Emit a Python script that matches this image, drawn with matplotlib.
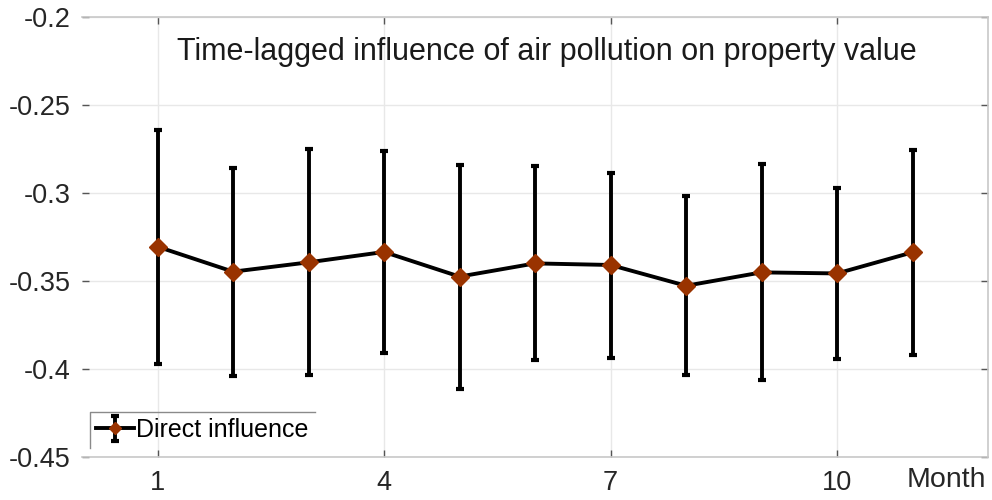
import numpy as np
import matplotlib
matplotlib.use('Agg')
import matplotlib.pyplot as plt
from matplotlib.lines import Line2D

# month lag and estimated direct influence
months = [1, 2, 3, 4, 5, 6, 7, 8, 9, 10, 11]
influence = [-0.3305, -0.3447, -0.3394, -0.3335, -0.3475, -0.3400,
             -0.3409, -0.3527, -0.3451, -0.3457, -0.3337]
upper = [-0.2642, -0.2860, -0.2748, -0.2760, -0.2841, -0.2845,
         -0.2886, -0.3019, -0.2837, -0.2970, -0.2754]
lower = [-0.3972, -0.4038, -0.4036, -0.3911, -0.4115, -0.3951,
         -0.3938, -0.4034, -0.4064, -0.3941, -0.3922]

xticks = [1, 4, 7, 10]
yticks = [-0.2, -0.25, -0.3, -0.35, -0.4, -0.45]
ytick_labels = ['-0.2', '-0.25', '-0.3', '-0.35', '-0.4', '-0.45']

plt.rcParams['font.family'] = ['Liberation Sans', 'DejaVu Sans']

fig = plt.figure(figsize=(9.92, 5.0), dpi=100)
ax = fig.add_axes([0.0827, 0.086, 0.9133, 0.880])

y = np.array(influence)
yerr = np.vstack([y - np.array(lower), np.array(upper) - y])
ax.errorbar(months, y, yerr=yerr, color='black', lw=2.8, elinewidth=2.8,
            capsize=2.6, capthick=3, marker='D', markersize=9.5,
            markerfacecolor='#993300', markeredgecolor='#993300',
            label='Direct influence', zorder=3)

ax.set_xlim(0, 12)
ax.set_ylim(-0.45, -0.2)
ax.set_xticks(xticks)
ax.set_yticks(yticks)
ax.set_yticklabels(ytick_labels)
ax.grid(True, color='#e8e8e8', lw=1)
ax.set_axisbelow(True)

for side in ['top', 'right', 'bottom']:
    ax.spines[side].set_color('#c8c8c8')
    ax.spines[side].set_linewidth(1.2)
ax.spines['left'].set_visible(False)
ax.tick_params(direction='in', length=5, width=1, color='#555555',
               labelsize=19.5, labelcolor='#262626', top=True, right=True, pad=9)
ax.tick_params(axis='y', pad=8)

ax.text(0.513, 0.92, 'Time-lagged influence of air pollution on property value',
        transform=ax.transAxes, ha='center', va='center', fontsize=22,
        color='#1a1a1a')
ax.text(0.954, -0.022, 'Month', transform=ax.transAxes, ha='center', va='top',
        fontsize=20.5, color='#262626')

leg = ax.legend(loc='lower left', bbox_to_anchor=(0.009, 0.02), frameon=False,
                fontsize=18, handlelength=1.5, handletextpad=0.1,
                borderpad=0.25, borderaxespad=0)
# smaller diamond in the legend key
for ln in leg.findobj(Line2D):
    if ln.get_marker() == 'D':
        ln.set_markersize(6)
        ln.set_linewidth(2.2)

# legend box shows only its top and left edges
fig.canvas.draw()
bb = leg.get_window_extent().transformed(ax.transAxes.inverted())
ax.plot([bb.x0, bb.x0, bb.x1], [bb.y0, bb.y1, bb.y1], color='#8a8a8a',
        lw=1, transform=ax.transAxes, clip_on=False)

fig.savefig('out.png', dpi=100)
plt.close(fig)
